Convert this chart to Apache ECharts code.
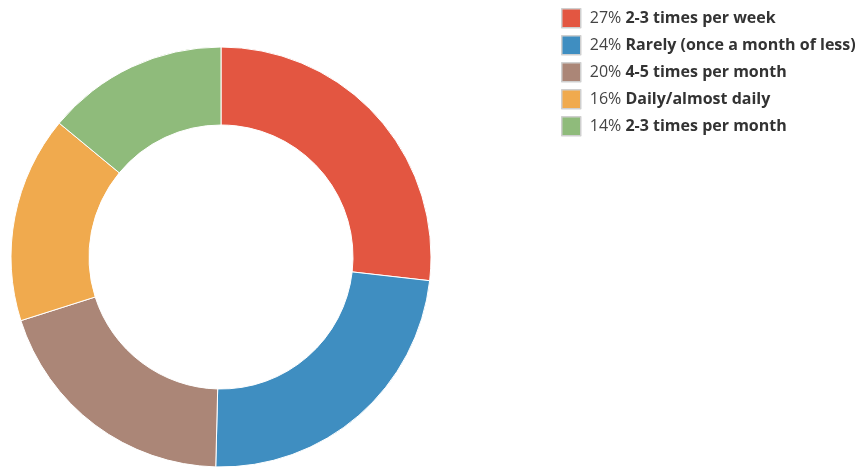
<!DOCTYPE html>
<html>
<head>
<meta charset="utf-8">
<script src="https://cdn.jsdelivr.net/npm/echarts@6/dist/echarts.min.js"></script>
<style>
  html, body { margin: 0; padding: 0; background: #fff; }
  #chart { width: 864px; height: 471px; }
</style>
</head>
<body>
<div id="chart"></div>
<script>
// categories and shares
const categories = [
  '2-3 times per week',
  'Rarely (once a month of less)',
  '4-5 times per month',
  'Daily/almost daily',
  '2-3 times per month'
];
const shares = [26.8, 23.6, 19.7, 15.9, 14.0];
const colors = ['#e35641', '#3f8ec1', '#ab8677', '#f0aa4e', '#8fbb7b'];

const total = shares.reduce((a, b) => a + b, 0);
const pieData = categories.map((name, i) => ({ name: name, value: shares[i] }));

const chart = echarts.init(document.getElementById('chart'));
chart.setOption({
  animation: false,
  color: colors,
  legend: {
    orient: 'vertical',
    left: 561,
    top: 8,
    padding: 0,
    itemWidth: 19,
    itemHeight: 19,
    itemGap: 6.5,
    icon: 'rect',
    itemStyle: { borderColor: '#cfcfcf', borderWidth: 1.5 },
    textStyle: {
      fontFamily: 'Open Sans',
      fontSize: 16,
      color: '#333',
      padding: [0, 0, 0, 4],
      rich: {
        p: { fontFamily: 'Open Sans', fontSize: 16, color: '#444', lineHeight: 19 },
        b: { fontFamily: 'Open Sans', fontSize: 16, fontWeight: 'bold', color: '#333', lineHeight: 19 }
      }
    },
    formatter: function (name) {
      const i = categories.indexOf(name);
      const pct = Math.round(shares[i] / total * 100);
      return '{p|' + pct + '%} {b|' + name + '}';
    }
  },
  series: [{
    type: 'pie',
    center: [221, 257],
    radius: [132, 210],
    startAngle: 90,
    clockwise: true,
    label: { show: false },
    labelLine: { show: false },
    itemStyle: { borderColor: '#fff', borderWidth: 1 },
    emphasis: { disabled: true },
    data: pieData
  }]
});
</script>
</body>
</html>
